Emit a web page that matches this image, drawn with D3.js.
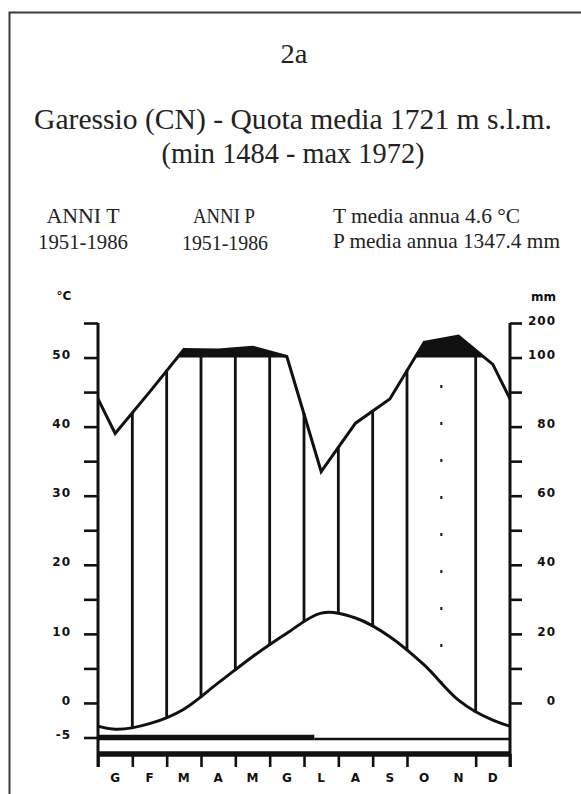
<!DOCTYPE html>
<html><head><meta charset="utf-8">
<script src="https://cdn.jsdelivr.net/npm/d3@7"></script>
<style>html,body{margin:0;padding:0;background:#fff;} svg{display:block}</style>
</head><body><svg id="c" width="581" height="794"></svg>
<script>
// ---- data ----
const months = ["G","F","M","A","M","G","L","A","S","O","N","D"];
const temperature = [-3.8, -3.0, -0.9, 2.9, 6.7, 10.1, 13.0, 12.3, 9.6, 5.5, 0.4, -2.5];
const precipitation = [78, 90, 123, 122, 130, 103, 67, 81, 88, 144, 162, 98];
const tempTickValues = [-5, 0, 5, 10, 15, 20, 25, 30, 35, 40, 45, 50, 55];
const tempTickLabels = [-5, 0, 10, 20, 30, 40, 50];
const precTickValues = [0, 10, 20, 30, 40, 50, 60, 70, 80, 90, 100, 200];
const precTickLabels = [0, 20, 40, 60, 80, 100, 200];

const svg = d3.select("#c");
const W = 581, H = 794;
svg.append("rect").attr("width", W).attr("height", H).attr("fill", "#fff");
svg.append("path").attr("d", "M9.5,794V12.5H581").attr("fill", "none")
  .attr("stroke", "#3a3a3a").attr("stroke-width", 2);

const serif = "'Liberation Serif','DejaVu Serif',serif";
function fitText(str, px, y, width, anchor, size) {
  const t = svg.append("text").text(str).attr("font-family", serif)
    .attr("font-size", size).attr("fill", "#222");
  t.attr("x", px).attr("y", y).attr("text-anchor", anchor)
   .attr("textLength", width).attr("lengthAdjust", "spacingAndGlyphs");
  return t;
}
fitText("2a", 294, 63, 27, "middle", 27);
fitText("Garessio (CN) - Quota media 1721 m s.l.m.", 293, 129, 518, "middle", 30);
fitText("(min 1484 - max 1972)", 293, 163, 263, "middle", 30);
fitText("ANNI T", 83, 223, 73, "middle", 22);
fitText("1951-1986", 83, 249, 90, "middle", 22);
fitText("ANNI P", 224, 223, 62, "middle", 22);
fitText("1951-1986", 225, 250, 86, "middle", 22);
fitText("T media annua 4.6 \u00B0C", 333, 223, 187, "start", 22);
fitText("P media annua 1347.4 mm", 333, 248, 227, "start", 22);

// ---- scales ----
const x = d3.scaleLinear().domain([0, 12]).range([98, 510]);
const yT = d3.scaleLinear().domain([-5, 55]).range([737.5, 323]);
const yP = d3.scaleLinear().domain([0, 100, 200]).range([yT(0), yT(50), yT(55)]);
const y100 = yP(100);

const wrap = (arr) => {
  const n = arr.length, out = [];
  for (let i = -2; i < n + 2; i++) out.push({ m: i + 0.5, v: arr[(i + n) % n] });
  return out;
};
const tPts = wrap(temperature), pPts = wrap(precipitation);

const defs = svg.append("defs");
defs.append("clipPath").attr("id", "plot").append("rect")
  .attr("x", x(0)).attr("y", 300).attr("width", x(12) - x(0)).attr("height", 450);

const ink = "#111";

// black fill where precipitation exceeds 100 mm: runs of screen points above the 100 line
const runs = [];
let cur = null;
for (let i = 0; i < pPts.length; i++) {
  const p = { X: x(pPts[i].m), Y: yP(pPts[i].v), up: pPts[i].v > 100 };
  if (i === 0) {
    if (p.up) cur = [{ X: p.X, Y: y100 }];
  } else {
    const q = { X: x(pPts[i - 1].m), Y: yP(pPts[i - 1].v), up: pPts[i - 1].v > 100 };
    if (p.up !== q.up) {
      const t = (y100 - q.Y) / (p.Y - q.Y);
      const c = { X: q.X + t * (p.X - q.X), Y: y100 };
      if (p.up) { cur = [c]; } else if (cur) { cur.push(c); runs.push(cur); cur = null; }
    }
  }
  if (p.up && cur) cur.push(p);
}
if (cur) { cur.push({ X: cur[cur.length - 1].X, Y: y100 }); runs.push(cur); }
svg.append("g").attr("clip-path", "url(#plot)").selectAll("path").data(runs).join("path")
  .attr("d", r => d3.area().x(d => d.X).y0(y100).y1(d => d.Y)(r))
  .attr("fill", ink);

// humid-period vertical lines at month boundaries
const n = 12;
const tAt = b => (-temperature[(b - 2 + n) % n] + 9 * temperature[(b - 1 + n) % n]
                 + 9 * temperature[b % n] - temperature[(b + 1) % n]) / 16;
const pyAt = b => (yP(precipitation[(b - 1 + n) % n]) + yP(precipitation[b % n])) / 2;
const bounds = d3.range(1, 12);
svg.append("g").selectAll("line").data(bounds).join("line")
  .attr("x1", b => x(b)).attr("x2", b => x(b))
  .attr("y1", b => yT(tAt(b)) + 1).attr("y2", b => Math.max(pyAt(b), y100) - 1)
  .attr("stroke", ink).attr("stroke-width", b => b === 10 ? 2 : 2.8)
  .attr("stroke-dasharray", b => b === 10 ? "3,34" : null);

// precipitation line
svg.append("path").datum(pPts).attr("clip-path", "url(#plot)")
  .attr("d", d3.line().x(d => x(d.m)).y(d => yP(d.v)))
  .attr("fill", "none").attr("stroke", ink).attr("stroke-width", 3);

// temperature line
svg.append("path").datum(tPts).attr("clip-path", "url(#plot)")
  .attr("d", d3.line().x(d => x(d.m)).y(d => yT(d.v)).curve(d3.curveCatmullRom.alpha(0)))
  .attr("fill", "none").attr("stroke", ink).attr("stroke-width", 3);

// baseline at -5 and x axis band
svg.append("line").attr("x1", x(0)).attr("x2", x(6.3)).attr("y1", yT(-5)).attr("y2", yT(-5))
  .attr("stroke", ink).attr("stroke-width", 5.5);
svg.append("line").attr("x1", x(6.3)).attr("x2", x(12)).attr("y1", yT(-5) + 1.5).attr("y2", yT(-5) + 1.5)
  .attr("stroke", ink).attr("stroke-width", 2.5);
svg.append("line").attr("x1", x(0)).attr("x2", x(12)).attr("y1", 754).attr("y2", 754)
  .attr("stroke", ink).attr("stroke-width", 5.5);

// vertical axis lines
svg.append("line").attr("x1", x(0)).attr("x2", x(0)).attr("y1", yT(55)).attr("y2", 767)
  .attr("stroke", ink).attr("stroke-width", 3);
svg.append("line").attr("x1", x(12)).attr("x2", x(12)).attr("y1", yT(55)).attr("y2", 767)
  .attr("stroke", ink).attr("stroke-width", 3);

const labFont = "'DejaVu Sans',sans-serif";
function styleAxis(g) {
  g.select(".domain").remove();
  g.selectAll(".tick line").attr("stroke", ink).attr("stroke-width", 2.6);
  g.selectAll(".tick text").attr("font-family", labFont).attr("font-weight", "bold")
    .attr("font-size", 12).attr("fill", ink).attr("letter-spacing", 1);
}

// left axis (°C)
const gL = svg.append("g").attr("transform", `translate(${x(0)},0)`)
  .call(d3.axisLeft(yT).tickValues(tempTickValues).tickSize(14).tickPadding(13)
    .tickFormat(d => tempTickLabels.includes(d) ? String(d) : ""));
styleAxis(gL);
gL.selectAll(".tick text").attr("dy", "0.1em");

// right axis (mm)
const gR = svg.append("g").attr("transform", `translate(${x(12)},0)`)
  .call(d3.axisRight(yP).tickValues(precTickValues).tickSize(12).tickPadding(0)
    .tickFormat(d => precTickLabels.includes(d) ? String(d) : ""));
styleAxis(gR);
gR.selectAll(".tick text").attr("text-anchor", "end").attr("x", 46).attr("dy", "0.1em");

// bottom axis ticks + month labels
const gB = svg.append("g").attr("transform", "translate(0,754)")
  .call(d3.axisBottom(x).tickValues(d3.range(13).filter(d => d !== 10)).tickSize(13).tickFormat(""));
styleAxis(gB);
const gM = svg.append("g").attr("transform", "translate(0,754)")
  .call(d3.axisBottom(x).tickValues(months.map((m, i) => i + 0.5)).tickSize(0).tickPadding(19)
    .tickFormat((d, i) => months[i]));
styleAxis(gM);

// unit labels
svg.append("text").text("\u00B0C").attr("x", 64).attr("y", 300).attr("text-anchor", "middle")
  .attr("font-family", labFont).attr("font-weight", "bold").attr("font-size", 12).attr("fill", ink);
svg.append("text").text("mm").attr("x", 556).attr("y", 301).attr("text-anchor", "end")
  .attr("font-family", labFont).attr("font-weight", "bold").attr("font-size", 12).attr("fill", ink);
</script>
</body></html>
